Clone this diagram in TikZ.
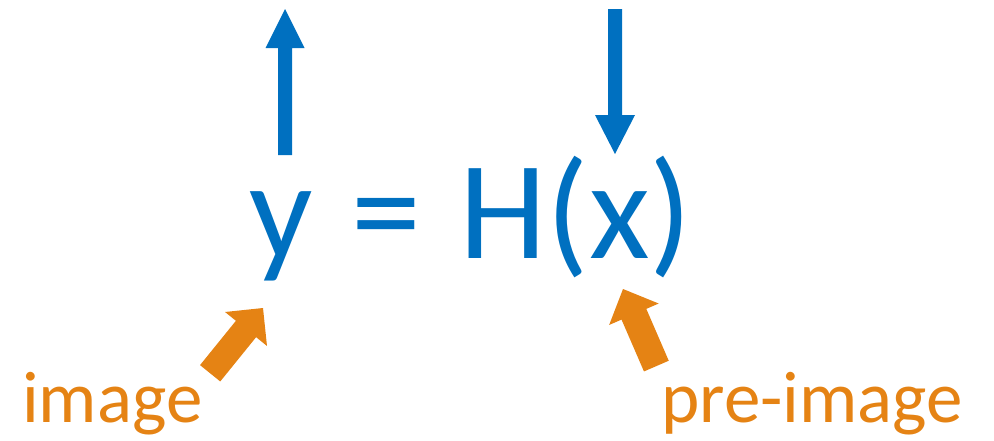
\documentclass[tikz,border=0pt]{standalone}
\usepackage{fontspec}
\setmainfont{Carlito}
\definecolor{eqblue}{RGB}{0,112,192}
\definecolor{lblorange}{RGB}{229,131,20}
\tikzset{
  pics/fatarrow/.style n args={4}{code={
    % #1 total length, #2 head length, #3 head half width, #4 shaft half width; tip at origin, pointing +x
    \fill (0,0) -- (-#2,#3) -- (-#2,#4) -- (-#1,#4) -- (-#1,-#4) -- (-#2,-#4) -- (-#2,-#3) -- cycle;
  }},
  eqtext/.style={inner sep=0pt, text=eqblue, font=\fontsize{140}{144}\selectfont},
  lbltext/.style={inner sep=0pt, text=lblorange, font=\fontsize{73}{76}\selectfont},
}
\begin{document}
\begin{tikzpicture}[x=1pt,y=-1pt]
\useasboundingbox (0,0) rectangle (994,440);
\node[eqtext, anchor=base west] (eq) at (249,258) {y\hspace{0.05em} = \hspace{0.05em}H(x)};
\node[lbltext, anchor=base west] (img) at (22,422) {image};
\node[lbltext, anchor=base west] (pre) at (661,422) {pre-image};
\begin{scope}[eqblue]
  \pic[shift={(285,9)}, rotate=90] {fatarrow={146}{39}{19.5}{7}};
  \pic[shift={(615,154)}, rotate=-90] {fatarrow={145}{39}{20}{7}};
\end{scope}
\begin{scope}[lblorange]
  \pic[shift={(263,308)}, rotate=51] {fatarrow={84}{27}{27}{13}};
  \pic[shift={(623,289)}, rotate=113.4] {fatarrow={84}{27.5}{27}{13.5}};
\end{scope}
\end{tikzpicture}
\end{document}
